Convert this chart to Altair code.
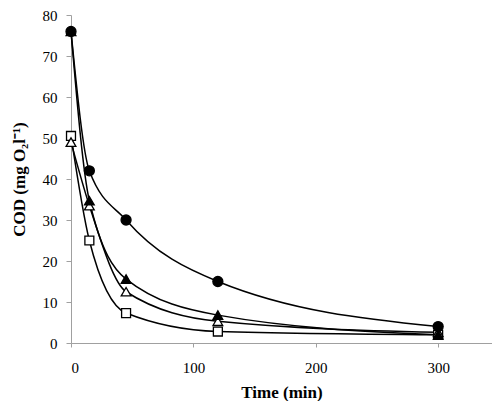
import altair as alt
import pandas as pd

time = [0, 15, 45, 120, 300]
circle_filled = [76, 42, 30, 15, 4]
triangle_filled = [76, 34.7, 15.6, 6.8, 2]
triangle_open = [49, 33.5, 12.5, 5.3, 2.6]
square_open = [50.5, 25, 7.3, 2.8, 2]

series = {
    "circle_filled": circle_filled,
    "triangle_filled": triangle_filled,
    "triangle_open": triangle_open,
    "square_open": square_open,
}
rows = []
for name, vals in series.items():
    for t, v in zip(time, vals):
        rows.append({"time": t, "cod": v, "series": name})
df = pd.DataFrame(rows)

FONT = "Liberation Serif"
GRAY = "#a0a0a0"

x = alt.X("time:Q", scale=alt.Scale(domain=[0, 344], nice=False),
          axis=alt.Axis(values=[0, 100, 200, 300], title="Time (min)", grid=False,
                        tickSize=4, labelPadding=13, titlePadding=9,
                        domainColor=GRAY, tickColor=GRAY, labelFont=FONT,
                        labelFontSize=15, labelColor="black", titleFont=FONT,
                        titleFontSize=17, titleFontWeight="bold", titleColor="black"))
y = alt.Y("cod:Q", scale=alt.Scale(domain=[0, 80], nice=False),
          axis=alt.Axis(values=list(range(0, 81, 10)), title="COD (mg O₂l⁻¹)", grid=False,
                        tickSize=5, labelPadding=9, titlePadding=14,
                        domainColor=GRAY, tickColor=GRAY, labelFont=FONT,
                        labelFontSize=15, labelColor="black", titleFont=FONT,
                        titleFontSize=17, titleFontWeight="bold", titleColor="black"))

base = alt.Chart(df)
lines = base.mark_line(color="black", strokeWidth=1.5, interpolate="monotone").encode(
    x=x, y=y, detail="series:N")

def pts(name, shape, filled, size):
    return base.transform_filter(alt.datum.series == name).mark_point(
        shape=shape, filled=True, size=size,
        fill="black" if filled else "white",
        stroke="black", strokeWidth=1.3, opacity=1).encode(x=x, y=y)

chart = alt.layer(
    lines,
    pts("square_open", "square", False, 80),
    pts("triangle_open", "triangle-up", False, 95),
    pts("triangle_filled", "triangle-up", True, 95),
    pts("circle_filled", "circle", True, 100),
).properties(
    width=421, height=328,
    autosize=alt.AutoSizeParams(type="none"),
    padding={"left": 63, "top": 7, "right": 0, "bottom": 58},
).configure_view(stroke=None)

chart.save("out.html", embed_options={"renderer": "svg", "actions": False})
